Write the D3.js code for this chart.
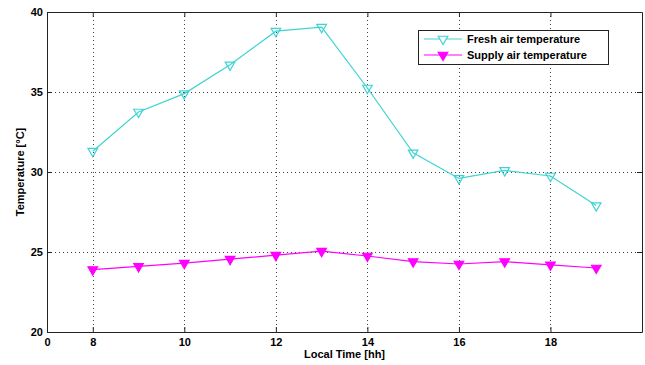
<!DOCTYPE html>
<html>
  <head>
    <style>
    body {
      font-family: "Liberation Sans", Arial, sans-serif;
      margin: 0;
      background: #fff;
    }
    text { font-weight: bold; font-size: 11px; fill: #000; }
    </style>
  </head>
  <body>
    <script src="https://d3js.org/d3.v7.min.js"></script>
    <script>
    var hours = [8, 9, 10, 11, 12, 13, 14, 15, 16, 17, 18, 19];
    var freshAir = [31.3, 33.75, 34.9, 36.7, 38.8, 39.05, 35.25, 31.2, 29.6, 30.1, 29.75, 27.9];
    var supplyAir = [23.9, 24.1, 24.3, 24.55, 24.8, 25.05, 24.75, 24.4, 24.25, 24.4, 24.2, 24.0];
    var xTicks = [7, 8, 10, 12, 14, 16, 18];
    var xTickLabels = ["0", "8", "10", "12", "14", "16", "18"];
    var yTicks = [20, 25, 30, 35, 40];
    var seriesNames = ["Fresh air temperature", "Supply air temperature"];

    var width = 645, height = 365;
    var pLeft = 47, pTop = 12, pRight = 642, pBottom = 332;

    var svg = d3.select("body").append("svg")
        .attr("width", width)
        .attr("height", height);

    var x = d3.scaleLinear().domain([7, 20]).range([pLeft, pRight]);
    var y = d3.scaleLinear().domain([20, 40]).range([pBottom, pTop]);

    // grid
    var grid = svg.append("g")
        .attr("stroke", "#444")
        .attr("stroke-width", 1)
        .attr("stroke-dasharray", "1,3");
    grid.selectAll(".gx").data(xTicks.slice(1)).enter().append("line")
        .attr("x1", function(d){ return Math.round(x(d)) + 0.5; })
        .attr("x2", function(d){ return Math.round(x(d)) + 0.5; })
        .attr("y1", pTop).attr("y2", pBottom);
    grid.selectAll(".gy").data(yTicks.slice(1, -1)).enter().append("line")
        .attr("y1", function(d){ return Math.round(y(d)) + 0.5; })
        .attr("y2", function(d){ return Math.round(y(d)) + 0.5; })
        .attr("x1", pLeft).attr("x2", pRight);

    // axes (MATLAB style: ticks inside, on all sides)
    var xAxis = d3.axisBottom(x).tickValues(xTicks).tickSizeInner(-5).tickSizeOuter(0)
        .tickFormat(function(d, i){ return xTickLabels[i]; });
    var gx = svg.append("g").attr("transform", "translate(0," + pBottom + ")").call(xAxis);
    gx.selectAll("text").attr("dy", "0").attr("y", 14);

    var yAxis = d3.axisLeft(y).tickValues(yTicks).tickSizeInner(-5).tickSizeOuter(0)
        .tickFormat(d3.format("d"));
    var gy = svg.append("g").attr("transform", "translate(" + pLeft + ",0)").call(yAxis);
    gy.selectAll("text").attr("x", -4);

    svg.append("g").attr("transform", "translate(0," + pTop + ")")
        .call(d3.axisTop(x).tickValues(xTicks).tickSizeInner(-5).tickSizeOuter(0).tickFormat(""));
    svg.append("g").attr("transform", "translate(" + pRight + ",0)")
        .call(d3.axisRight(y).tickValues(yTicks).tickSizeInner(-5).tickSizeOuter(0).tickFormat(""));

    svg.selectAll(".domain, .tick line").attr("stroke", "#222");
    svg.selectAll(".tick text").style("font-family", "Liberation Sans, Arial, sans-serif")
        .style("font-size", "11px").style("font-weight", "bold");

    // axis labels
    svg.append("text").attr("x", (pLeft + pRight) / 2).attr("y", 358)
        .attr("text-anchor", "middle").text("Local Time [hh]");
    svg.append("text").attr("transform", "translate(24," + (pTop + pBottom) / 2 + ") rotate(-90)")
        .attr("text-anchor", "middle").text("Temperature [\u00B0C]");

    var cyan = "#3fd3d3", magenta = "#ff00ff";
    var tri = d3.symbol().type(d3.symbolTriangle).size(40);

    var line = d3.line()
        .x(function(d){ return x(d[0]); })
        .y(function(d){ return y(d[1]); });

    function drawSeries(values, color, filled) {
      var pts = hours.map(function(h, i){ return [h, values[i]]; });
      svg.append("path").datum(pts)
          .attr("fill", "none").attr("stroke", color).attr("stroke-width", 1.2)
          .attr("d", line);
      svg.selectAll(null).data(pts).enter().append("path")
          .attr("d", tri)
          .attr("transform", function(d){ return "translate(" + x(d[0]) + "," + y(d[1]) + ") rotate(180)"; })
          .attr("fill", filled ? color : "none")
          .attr("stroke", color).attr("stroke-width", 1.2);
    }
    drawSeries(freshAir, cyan, false);
    drawSeries(supplyAir, magenta, true);

    // legend
    var lg = svg.append("g");
    lg.append("rect").attr("x", 418.5).attr("y", 30.5).attr("width", 190).attr("height", 34)
        .attr("fill", "#fff").attr("stroke", "#222");
    [[cyan, false], [magenta, true]].forEach(function(s, i){
      var ly = 39 + i * 16;
      lg.append("line").attr("x1", 424).attr("x2", 462).attr("y1", ly).attr("y2", ly)
          .attr("stroke", s[0]).attr("stroke-width", 1.2);
      lg.append("path").attr("d", tri)
          .attr("transform", "translate(443," + ly + ") rotate(180)")
          .attr("fill", s[1] ? s[0] : "#fff").attr("stroke", s[0]).attr("stroke-width", 1.2);
      lg.append("text").attr("x", 467).attr("y", ly + 4).text(seriesNames[i]);
    });
    </script>
  </body>
</html>
